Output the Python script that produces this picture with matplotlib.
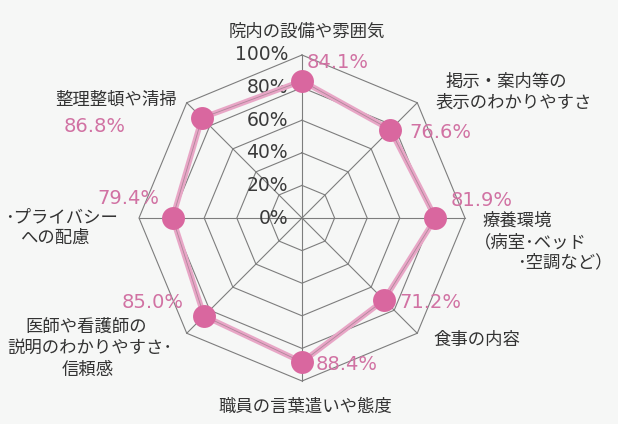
import numpy as np
import matplotlib
matplotlib.use("Agg")
import matplotlib.pyplot as plt

plt.rcParams['font.family'] = ['Noto Sans CJK JP', 'DejaVu Sans']

categories = ["院内の設備や雰囲気", "掲示・案内等の表示のわかりやすさ",
              "療養環境（病室・ベッド・空調など）", "食事の内容",
              "職員の言葉遣いや態度", "医師や看護師の説明のわかりやすさ・信頼感",
              "プライバシーへの配慮", "整理整頓や清掃"]
values = [84.1, 76.6, 81.9, 71.2, 88.4, 85.0, 79.4, 86.8]
ticks = [0, 20, 40, 60, 80, 100]
tick_labels = ["0%", "20%", "40%", "60%", "80%", "100%"]

# display label lines and positions (pixel layout)
label_lines = [
    [("院内の設備や雰囲気", 307, 32, 'center')],
    [("掲示・案内等の", 506, 82, 'center'), ("表示のわかりやすさ", 514, 103, 'center')],
    [("療養環境", 483, 221, 'left'), ("（病室･ベッド", 474, 242, 'left'), ("･空調など）", 613, 262, 'right')],
    [("食事の内容", 433, 340, 'left')],
    [("職員の言葉遣いや態度", 305, 407, 'center')],
    [("医師や看護師の", 86, 327, 'center'), ("説明のわかりやすさ･", 90, 348, 'center'), ("信頼感", 88, 370, 'center')],
    [("･プライバシー", 5, 217, 'left'), ("への配慮", 20, 238, 'left')],
    [("整理整頓や清掃", 55, 100, 'left')],
]
value_pos = [(307, 63, 'left'), (409, 133, 'left'), (451, 200, 'left'), (399, 303, 'left'),
             (316, 365, 'left'), (184, 303, 'right'), (159, 198, 'right'), (126, 126, 'right')]

W, H = 618, 424
fig = plt.figure(figsize=(W / 100, H / 100), dpi=100)
fig.patch.set_facecolor('#f6f7f6')
ax = fig.add_axes([0, 0, 1, 1])
ax.set_xlim(0, W)
ax.set_ylim(H, 0)
ax.axis('off')

cx, cy, R = 302, 218, 163
n = len(values)
theta = np.arange(n) * 2 * np.pi / n

def to_xy(v, th):
    r = R * np.asarray(v) / 100.0
    return cx + r * np.sin(th), cy - r * np.cos(th)

grid_c = '#7d7d7d'
for t in ticks[1:]:
    xs, ys = to_xy(np.full(n + 1, t), np.append(theta, theta[0]))
    ax.plot(xs, ys, color=grid_c, lw=0.8, zorder=1)
for th in theta:
    xs, ys = to_xy([0, 100], np.array([th, th]))
    ax.plot(xs, ys, color=grid_c, lw=0.8, zorder=1)

for t, lab in zip(ticks, tick_labels):
    _, y = to_xy(t, 0.0)
    ax.text(cx - 14, y, lab, ha='right', va='center', fontsize=13.5, color='#3a3a3a', zorder=2,
            family=['DejaVu Sans'])

vx, vy = to_xy(np.append(values, values[0]), np.append(theta, theta[0]))
ax.plot(vx, vy, color='#e8a6c6', lw=4, zorder=3)
ax.plot(vx, vy, color='#7a6670', lw=0.6, alpha=0.5, zorder=3)
ax.plot(vx[:-1], vy[:-1], 'o', color='#d9679f', markersize=16.5, markeredgewidth=0, zorder=4)

for (x, y, ha), v in zip(value_pos, values):
    ax.text(x, y, f"{v:.1f}%", ha=ha, va='center', fontsize=14, color='#d172a3',
            family=['DejaVu Sans'], zorder=5)

for lines in label_lines:
    for s, x, y, ha in lines:
        ax.text(x, y, s, ha=ha, va='center', fontsize=12.5, color='#333333', zorder=5)

fig.savefig('out.png', dpi=100, facecolor=fig.get_facecolor())
